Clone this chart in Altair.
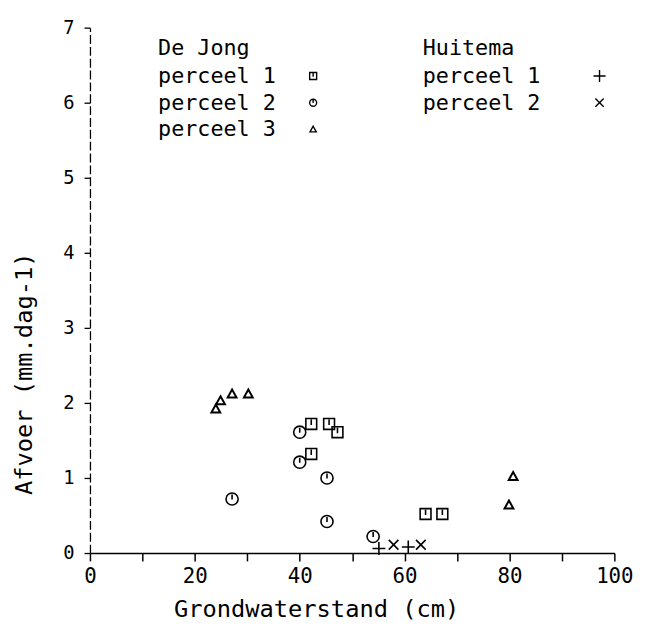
import altair as alt
import pandas as pd

# De Jong perceel 1 (squares)
dj1_x = [42.2, 45.6, 47.2, 42.2, 64.0, 67.2]
dj1_y = [1.72, 1.72, 1.61, 1.32, 0.52, 0.52]
# De Jong perceel 2 (circles)
dj2_x = [40.0, 40.0, 45.2, 27.1, 45.2, 54.0]
dj2_y = [1.61, 1.21, 1.00, 0.72, 0.42, 0.22]
# De Jong perceel 3 (triangles)
dj3_x = [24.0, 24.9, 27.1, 30.2, 79.9, 80.7]
dj3_y = [1.92, 2.03, 2.12, 2.12, 0.64, 1.02]
# Huitema perceel 1 (+)
hu1_x = [55.1, 60.7]
hu1_y = [0.06, 0.08]
# Huitema perceel 2 (x)
hu2_x = [57.9, 63.1]
hu2_y = [0.11, 0.11]

x_ticks = [0, 10, 20, 30, 40, 50, 60, 70, 80, 90, 100]
y_ticks = [0, 1, 2, 3, 4, 5, 6, 7]

legend_titles = ["De Jong", "Huitema"]
legend_dj = ["perceel 1", "perceel 2", "perceel 3"]
legend_hu = ["perceel 1", "perceel 2"]

FONT = "DejaVu Sans Mono"

SQUARE = "M-1,-1L1,-1L1,1L-1,1Z M0,-0.8L0,0.2"
CIRCLE = "M1,0A1,1,0,1,1,-1,0A1,1,0,1,1,1,0Z M0,-0.75L0,0.1"
TRIANGLE = "M0,-1L1,0.8L-1,0.8Z"
PLUS = "M-1,0L1,0M0,-1L0,1"
CROSS = "M-0.8,-0.8L0.8,0.8M-0.8,0.8L0.8,-0.8"

W, H = 531, 532

xs = alt.Scale(domain=[0, 100], nice=False, zero=False)
ys = alt.Scale(domain=[0, 7], nice=False, zero=False)

x_axis = alt.Axis(
    values=x_ticks, title="Grondwaterstand (cm)",
    labelExpr="datum.value % 20 == 0 ? datum.label : ''",
    tickSize=8, labelPadding=5, labelFontSize=21, titleFontSize=24,
    labelFlush=False,
    titleFontWeight="normal", titleX=229, titleY=57, titleAnchor="middle",
    titleAlign="center", titleBaseline="middle", grid=False,
    domainColor="black", tickColor="black",
    labelColor="black", titleColor="black", labelFont=FONT, titleFont=FONT,
    tickWidth=1.5, domainWidth=1.3)
y_axis = alt.Axis(
    values=y_ticks, title="Afvoer (mm.dag-1)", tickSize=6, labelPadding=10,
    labelFontSize=19, titleFontSize=24, titleFontWeight="normal",
    labelFlush=False,
    titleX=-66, titleY=350, titleAngle=270, titleAlign="center",
    titleBaseline="middle", grid=False, domainColor="black", tickColor="black",
    labelColor="black", titleColor="black", labelFont=FONT, titleFont=FONT,
    domainDash=[9, 3], domainWidth=1.3, tickWidth=1.3)


def series(xv, yv, shape, size, sw):
    df = pd.DataFrame({"x": xv, "y": yv})
    return alt.Chart(df).mark_point(
        shape=shape, filled=False, stroke="black", strokeWidth=sw, size=size,
        opacity=1).encode(
        x=alt.X("x:Q", scale=xs, axis=x_axis),
        y=alt.Y("y:Q", scale=ys, axis=y_axis))


layers = [
    series(dj1_x, dj1_y, SQUARE, 120, 1.6),
    series(dj2_x, dj2_y, CIRCLE, 150, 1.6),
    series(dj3_x, dj3_y, TRIANGLE, 80, 2.0),
    series(hu1_x, hu1_y, PLUS, 170, 1.6),
    series(hu2_x, hu2_y, CROSS, 150, 1.6),
]

# legend: text and symbols placed in pixels inside the plot area
leg_layers = []
leg_items = [(legend_titles[0], 69, 21), (legend_titles[1], 337, 21)]
leg_items += [(t, 69, 49 + 27 * i) for i, t in enumerate(legend_dj)]
leg_items += [(t, 337, 49 + 27 * i) for i, t in enumerate(legend_hu)]
for t, px, py in leg_items:
    leg_layers.append(alt.Chart(pd.DataFrame({"t": [t]})).mark_text(
        align="left", baseline="middle", font=FONT, fontSize=22, color="black"
    ).encode(x=alt.value(px), y=alt.value(py), text="t:N"))

sym_shapes = [SQUARE, CIRCLE, TRIANGLE, PLUS, CROSS]
sym_px = [226, 226, 226, 516, 516]
sym_py = [49, 76, 103, 49, 76]
sym_size = [50, 50, 40, 150, 110]
for s, px, py, sz in zip(sym_shapes, sym_px, sym_py, sym_size):
    leg_layers.append(alt.Chart(pd.DataFrame({"k": [0]})).mark_point(
        shape=s, filled=False, stroke="black", strokeWidth=1.4, size=sz, opacity=1
    ).encode(x=alt.value(px), y=alt.value(py)))

chart = alt.layer(*layers, *leg_layers).properties(
    width=W, height=H,
    autosize=alt.AutoSizeParams(type="none"),
    padding={"left": 83, "top": 16, "right": 28, "bottom": 70},
    background="white",
).configure_view(stroke=None)

chart.save("out.html", embed_options={"renderer": "svg", "actions": False})
